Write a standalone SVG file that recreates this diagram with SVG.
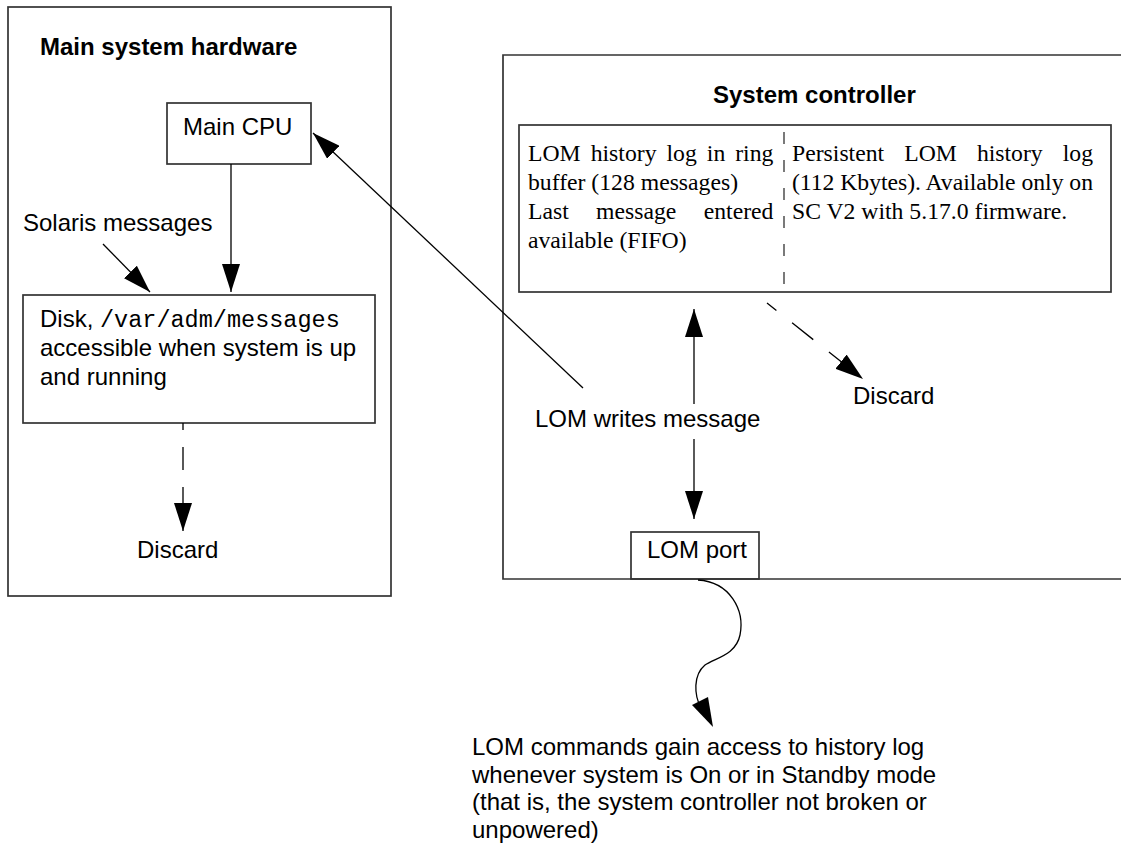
<svg xmlns="http://www.w3.org/2000/svg" width="1121" height="847" viewBox="0 0 1121 847">
<style>
.box{fill:none;stroke:#333;stroke-width:1.7}
.sans{font-family:"Liberation Sans",Arial,sans-serif;font-size:24px;fill:#000}
.bold{font-weight:bold}
.serif{font-family:"Liberation Serif","Times New Roman",serif;font-size:23.7px;fill:#000}
.mono{font-family:"Liberation Mono","Courier New",monospace;font-size:23.5px}
.arr{fill:none;stroke:#000;stroke-width:1.3}
</style>
<defs>
<marker id="ah" markerUnits="userSpaceOnUse" markerWidth="28" markerHeight="18" viewBox="0 0 28 18" refX="28" refY="9" orient="auto">
<path d="M0,0 L28,9 L0,18 z" fill="#000"/>
</marker>
</defs>
<rect width="1121" height="847" fill="#fff"/>

<g id="main-hardware">
<rect class="box" x="8" y="7" width="383" height="589"/>
<text class="sans bold" x="40" y="55">Main system hardware</text>
</g>

<g id="main-cpu">
<rect class="box" x="167" y="103" width="144" height="61"/>
<text class="sans" x="183" y="135">Main CPU</text>
</g>

<g id="solaris-label">
<text class="sans" x="23" y="231">Solaris messages</text>
</g>

<g id="disk">
<rect class="box" x="23" y="295" width="352" height="128"/>
<text class="sans" x="40" y="327">Disk, <tspan class="mono">/var/adm/messages</tspan></text>
<text class="sans" x="40" y="356">accessible when system is up</text>
<text class="sans" x="40" y="385">and running</text>
</g>

<g id="discard-left">
<text class="sans" x="137" y="558">Discard</text>
</g>

<g id="system-controller">
<path class="box" d="M1121,55 H503 V579 H1121"/>
<text class="sans bold" x="713" y="103">System controller</text>
</g>

<g id="history-logs">
<rect class="box" x="519" y="125" width="592" height="167"/>
<line x1="784" y1="132" x2="784" y2="292" stroke="#333" stroke-width="1.3" stroke-dasharray="12 16"/>
<text class="serif" y="161"><tspan x="528">LOM</tspan><tspan x="590.7">history</tspan><tspan x="666.5">log</tspan><tspan x="706.8">in</tspan><tspan x="773.4" text-anchor="end">ring</tspan></text>
<text class="serif" x="528" y="190">buffer (128 messages)</text>
<text class="serif" y="219"><tspan x="528">Last</tspan><tspan x="596">message</tspan><tspan x="773.4" text-anchor="end">entered</tspan></text>
<text class="serif" x="528" y="248">available (FIFO)</text>
<text class="serif" y="161"><tspan x="792">Persistent</tspan><tspan x="904.2">LOM</tspan><tspan x="976.9">history</tspan><tspan x="1093" text-anchor="end">log</tspan></text>
<text class="serif" x="792" y="190" textLength="301" lengthAdjust="spacing">(112 Kbytes). Available only on</text>
<text class="serif" x="792" y="219">SC V2 with 5.17.0 firmware.</text>
</g>

<g id="lom-writes">
<text class="sans" x="535" y="427">LOM writes message</text>
</g>

<g id="discard-right">
<text class="sans" x="853" y="404">Discard</text>
</g>

<g id="lom-port">
<rect class="box" x="631" y="532" width="128" height="47"/>
<text class="sans" x="647" y="558">LOM port</text>
</g>

<g id="lom-commands">
<text class="sans" x="472" y="755">LOM commands gain access to history log</text>
<text class="sans" x="472" y="782.5">whenever system is On or in Standby mode</text>
<text class="sans" x="472" y="810">(that is, the system controller not broken or</text>
<text class="sans" x="472" y="837.5">unpowered)</text>
</g>

<g id="connectors">
<path class="arr" d="M231,164 V292" marker-end="url(#ah)"/>
<path class="arr" d="M103,244 L150,292" marker-end="url(#ah)"/>
<path class="arr" d="M583,388 L313,133" marker-end="url(#ah)"/>
<path class="arr" d="M694,404 V309" marker-end="url(#ah)"/>
<path class="arr" d="M694,439 V519" marker-end="url(#ah)"/>
<path class="arr" d="M183,423 V531" stroke-dasharray="23 17" stroke-dashoffset="16" marker-end="url(#ah)"/>
<path class="arr" d="M767,303 L863,379" stroke-dasharray="27 20" stroke-dashoffset="15" marker-end="url(#ah)"/>
<path class="arr" d="M698,580 C730,582 745,610 740,635 C736,655 715,658 705,665 C693,675 694,695 701,708"/>
<polygon points="713,727 692,705 708,697" fill="#000"/>
</g>
</svg>
